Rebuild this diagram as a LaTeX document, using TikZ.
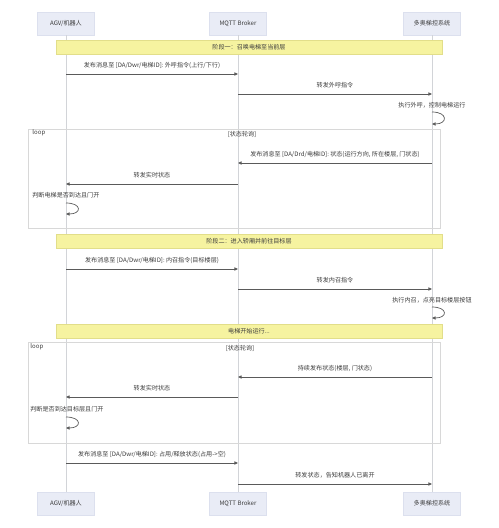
\documentclass[tikz,border=0pt]{standalone}
\usepackage{fontspec}
\setmainfont{Noto Sans CJK SC}
\usepackage{tikz}
\usetikzlibrary{arrows.meta}
\usetikzlibrary{positioning}

\definecolor{actorfill}{HTML}{E9ECF6}
\definecolor{actorline}{HTML}{DCE0EE}
\definecolor{phasefill}{HTML}{F6F3A0}
\definecolor{phaseline}{HTML}{E2DE8A}
\definecolor{lifegray}{HTML}{D2D4D8}
\definecolor{framegray}{HTML}{D8D8D8}
\definecolor{msggray}{HTML}{5A5A5A}
\definecolor{txtgray}{HTML}{3C3C3C}

\begin{document}
\begin{tikzpicture}[x=0.03cm, y=-0.03cm,
        txt/.style={font=\fontsize{5.2}{6}\selectfont, text=txtgray, inner sep=1pt},
        actor/.style={txt, fill=actorfill, draw=actorline, minimum width=1.71cm, minimum height=0.69cm},
        phase/.style={txt, fill=phasefill, draw=phaseline, minimum width=11.58cm, minimum height=0.42cm},
        lifeline/.style={draw=lifegray, line width=0.5pt},
        frame/.style={draw=framegray, line width=0.5pt},
        msg/.style={draw=msggray, line width=0.6pt, -{Triangle[length=3pt, width=2.6pt]}}]

                \useasboundingbox[fill=white] (0,0) rectangle (498,528);

                % participants
                \node[actor] (agvtop) at (66,23.5) {AGV/机器人};
                \node[actor] (brokertop) at (238,23.5) {MQTT Broker};
                \node[actor] (systop) at (432,23.5) {多奥梯控系统};
                \node[actor] (agvbot) at (66,503.5) {AGV/机器人};
                \node[actor] (brokerbot) at (238,503.5) {MQTT Broker};
                \node[actor] (sysbot) at (432,503.5) {多奥梯控系统};

                \draw[lifeline] (agvtop) -- (agvbot);
                \draw[lifeline] (brokertop) -- (brokerbot);
                \draw[lifeline] (systop) -- (sysbot);

                % phase one
                \node[phase] (phaseone) at (249,47) {阶段一：召唤电梯至当前层};

                \draw[msg] (agvtop |- 0,74) -- (brokertop |- 0,74) node[midway, above=3.5pt, txt] {发布消息至 [DA/Dwr/电梯ID]: 外呼指令(上行/下行)};
                \draw[msg] (brokertop |- 0,94) -- (systop |- 0,94) node[midway, above=3.5pt, txt] {转发外呼指令};
                \node[txt] (callexec) at (432,105) {执行外呼，控制电梯运行};
                \draw[msg] (systop |- 0,112) .. controls +(16,0) and +(16,0) .. (systop |- 0,124);

                % first loop
                \draw[frame] (28,129) rectangle (440,228);
                \node[txt, anchor=west] (loopone) at (31,133) {loop};
                \node[txt] (condone) at (242,134) {[状态轮询]};
                \draw[msg] (systop |- 0,163) -- (brokertop |- 0,163) node[midway, above=3.5pt, txt] {发布消息至 [DA/Drd/电梯ID]: 状态(运行方向, 所在楼层, 门状态)};
                \draw[msg] (brokertop |- 0,184) -- (agvtop |- 0,184) node[midway, above=3.5pt, txt] {转发实时状态};
                \node[txt, anchor=west] (checkone) at (31,195) {判断电梯是否到达且门开};
                \draw[msg] (agvtop |- 0,203) .. controls +(16,0) and +(16,0) .. (agvtop |- 0,214);

                % phase two
                \node[phase] (phasetwo) at (249,241.5) {阶段二：进入轿厢并前往目标层};

                \draw[msg] (agvtop |- 0,269) -- (brokertop |- 0,269) node[midway, above=3.5pt, txt] {发布消息至 [DA/Dwr/电梯ID]: 内召指令(目标楼层)};
                \draw[msg] (brokertop |- 0,289) -- (systop |- 0,289) node[midway, above=3.5pt, txt] {转发内召指令};
                \node[txt] (carexec) at (432,300) {执行内召，点亮目标楼层按钮};
                \draw[msg] (systop |- 0,307) .. controls +(16,0) and +(16,0) .. (systop |- 0,318);

                \node[phase] (running) at (249,331.5) {电梯开始运行...};

                % second loop
                \draw[frame] (28,342) rectangle (440,443);
                \node[txt, anchor=west] (looptwo) at (29,347) {loop};
                \node[txt] (condtwo) at (240,348) {[状态轮询]};
                \draw[msg] (systop |- 0,377) -- (brokertop |- 0,377) node[midway, above=3.5pt, txt] {持续发布状态(楼层, 门状态)};
                \draw[msg] (brokertop |- 0,397) -- (agvtop |- 0,397) node[midway, above=3.5pt, txt] {转发实时状态};
                \node[txt, anchor=west] (checktwo) at (29,409) {判断是否到达目标层且门开};
                \draw[msg] (agvtop |- 0,417) .. controls +(16,0) and +(16,0) .. (agvtop |- 0,428);

                % leaving
                \draw[msg] (agvtop |- 0,463) -- (brokertop |- 0,463) node[midway, above=3.5pt, txt] {发布消息至 [DA/Dwr/电梯ID]: 占用/释放状态(占用->空)};
                \draw[msg] (brokertop |- 0,484) -- (systop |- 0,484) node[midway, above=3.5pt, txt] {转发状态，告知机器人已离开};

            \end{tikzpicture}
\end{document}
